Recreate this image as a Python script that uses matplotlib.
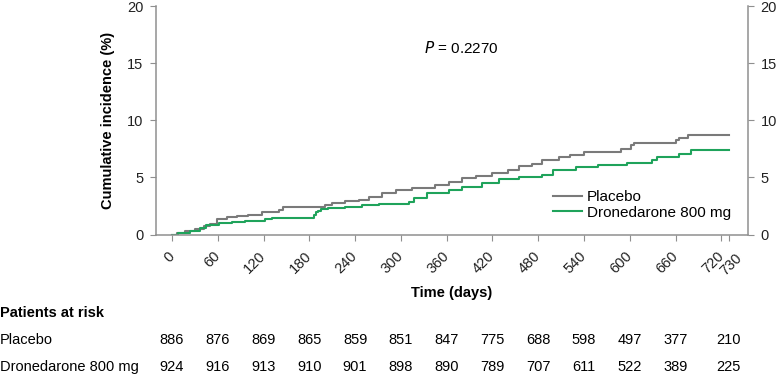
import numpy as np
import matplotlib
matplotlib.use('Agg')
import matplotlib.pyplot as plt
from matplotlib.transforms import blended_transform_factory, ScaledTranslation

plt.rcParams['font.family'] = ['Liberation Sans', 'DejaVu Sans']

# cumulative incidence (%), step changes at these days
placebo_days = [0, 6, 17, 30, 42, 50, 59, 72, 85, 100, 118, 140, 146, 201, 210, 227, 245,
                258, 275, 293, 315, 345, 363, 380, 398, 420, 441, 455, 472, 485,
                507, 522, 540, 588, 601, 605, 660, 665, 677, 730]
placebo_inc = [0, 0.12, 0.28, 0.48, 0.72, 0.92, 1.35, 1.52, 1.65, 1.75, 1.93, 2.12, 2.4, 2.6, 2.75, 2.92, 3.05,
               3.32, 3.66, 3.9, 4.05, 4.35, 4.58, 4.93, 5.14, 5.37, 5.66, 5.96, 6.19, 6.54,
               6.74, 6.97, 7.26, 7.5, 7.79, 8.0, 8.29, 8.44, 8.67, 8.67]

drone_days = [0, 8, 24, 37, 44, 61, 79, 96, 122, 131, 186, 189, 192, 195, 199, 205, 227, 249,
              271, 310, 317, 334, 363, 380, 406, 428, 455, 485, 500,
              529, 559, 596, 629, 636, 664, 680, 730]
drone_inc = [0, 0.1, 0.33, 0.54, 0.83, 0.98, 1.07, 1.21, 1.36, 1.47, 1.7, 1.95, 2.1, 2.2, 2.25, 2.3, 2.4, 2.55,
             2.68, 2.88, 3.17, 3.67, 3.9, 4.2, 4.49, 4.84, 5.02, 5.22, 5.66,
             5.95, 6.1, 6.24, 6.54, 6.77, 7.03, 7.41, 7.41]

xticks = [0, 60, 120, 180, 240, 300, 360, 420, 480, 540, 600, 660, 720, 730]
risk_days = [0, 60, 120, 180, 240, 300, 360, 420, 480, 540, 600, 660, 730]
risk_placebo = [886, 876, 869, 865, 859, 851, 847, 775, 688, 598, 497, 377, 210]
risk_drone = [924, 916, 913, 910, 901, 898, 890, 789, 707, 611, 522, 389, 225]

gray = '#7a7a7a'
green = '#1fa35b'
spine_c = '#8f8f8f'
fs = 10.5

fig = plt.figure(figsize=(7.77, 3.8), dpi=100)
ax = fig.add_axes([156/777, 1-234.5/380, (748-156)/777, (234.5-6)/380])

ax.step(placebo_days, placebo_inc, where='post', color=gray, lw=1.5, label='Placebo')
ax.step(drone_days, drone_inc, where='post', color=green, lw=1.5, label='Dronedarone 800 mg')

ax.set_xlim(-21, 755)
ax.set_ylim(0, 20)
ax.set_yticks([0, 5, 10, 15, 20])
ax.set_xticks(xticks)
ax.set_xticklabels([str(t) for t in xticks], rotation=45, ha='right', va='center',
                   rotation_mode='anchor', fontsize=fs)
ax.tick_params(axis='y', right=True, labelright=True, labelsize=fs, length=4.5,
               color=spine_c, labelcolor='#222222', pad=4.5)
ax.tick_params(axis='x', length=4, color=spine_c, labelcolor='#222222', pad=10)
# the 730 label is nudged right so it clears 720
lab730 = ax.get_xticklabels()[-1]
lab730.set_transform(lab730.get_transform() + ScaledTranslation(11/100, -2/100, fig.dpi_scale_trans))

for s in ['left', 'right', 'bottom']:
    ax.spines[s].set_color(spine_c)
    ax.spines[s].set_linewidth(1.1)
ax.spines['top'].set_visible(False)

ax.set_ylabel('Cumulative incidence (%)', fontsize=fs, fontweight='bold', labelpad=9)

ax.text(379, 16.3, r'$\it{P}$ = 0.2270', fontsize=fs+0.5, ha='center', va='center')

ax.legend(loc='upper left', bbox_to_anchor=(541/777, 1-178/380), bbox_transform=fig.transFigure,
          frameon=False, fontsize=fs+0.5, handlelength=1.9, handletextpad=0.3,
          labelspacing=0.1, borderpad=0.3)

fig.text(452/777, 1-293/380, 'Time (days)', fontsize=fs, fontweight='bold', ha='center', va='center')

trans = blended_transform_factory(ax.transData, fig.transFigure)
fig.text(0, 1-313/380, 'Patients at risk', fontsize=fs, fontweight='bold', ha='left', va='center')
fig.text(0, 1-340/380, 'Placebo', fontsize=fs, ha='left', va='center')
fig.text(0, 1-367/380, 'Dronedarone 800 mg', fontsize=fs, ha='left', va='center')
for d, a, b in zip(risk_days, risk_placebo, risk_drone):
    ax.text(d, 1-340/380, str(a), transform=trans, fontsize=fs, ha='center', va='center')
    ax.text(d, 1-367/380, str(b), transform=trans, fontsize=fs, ha='center', va='center')

fig.savefig('out.png', dpi=100)
